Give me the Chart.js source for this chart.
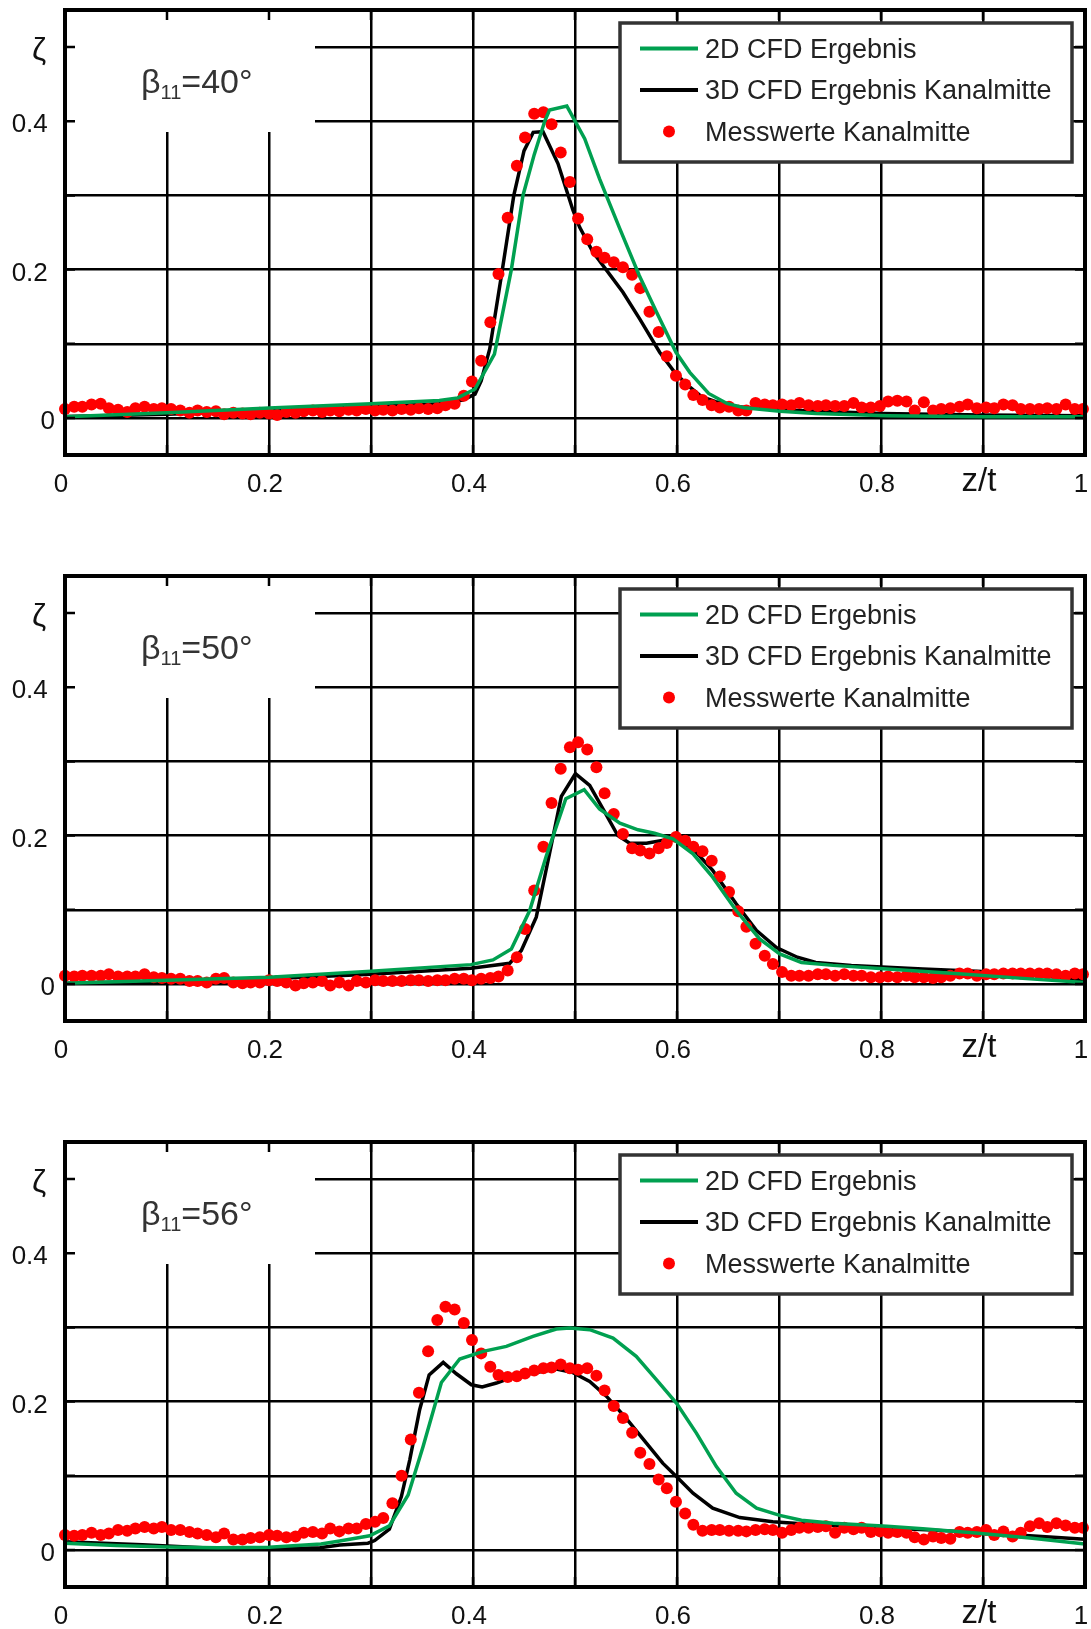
<!DOCTYPE html>
<html>
<head>
<meta charset="utf-8">
<script src="https://cdn.jsdelivr.net/npm/chart.js@4.4.0/dist/chart.umd.min.js"></script>
<style>
html,body{margin:0;padding:0;background:#fff;width:1091px;height:1629px;overflow:hidden;}
.panel{position:absolute;left:0;width:1091px;height:497px;}
canvas{display:block;}
</style>
</head>
<body>
<div class="panel" style="top:0px"><canvas id="c0" width="1091" height="497"></canvas></div>
<div class="panel" style="top:566px"><canvas id="c1" width="1091" height="497"></canvas></div>
<div class="panel" style="top:1132px"><canvas id="c2" width="1091" height="497"></canvas></div>
<script>
// ---------------- DATA ----------------
const seriesNames = ['2D CFD Ergebnis', '3D CFD Ergebnis Kanalmitte', 'Messwerte Kanalmitte'];
const angleLabels = ['40°', '50°', '56°'];

const xTickValues = [0, 0.1, 0.2, 0.3, 0.4, 0.5, 0.6, 0.7, 0.8, 0.9, 1];
const xTickLabels = ['0', '', '0.2', '', '0.4', '', '0.6', '', '0.8', 'z/t', '1'];
const yTickValues = [0, 0.1, 0.2, 0.3, 0.4, 0.5];
const yTickLabels = ['0', '', '0.2', '', '0.4', 'ζ'];

// measurement positions z/t (shared by all three traverses)
const zMess = [0.000,0.009,0.017,0.026,0.035,0.043,0.052,0.061,0.069,0.078,
  0.087,0.095,0.104,0.113,0.122,0.130,0.139,0.148,0.156,0.165,
  0.174,0.182,0.191,0.200,0.208,0.217,0.226,0.234,0.243,0.252,
  0.260,0.269,0.278,0.286,0.295,0.304,0.312,0.321,0.330,0.339,
  0.347,0.356,0.365,0.373,0.382,0.391,0.399,0.408,0.417,0.425,
  0.434,0.443,0.451,0.460,0.469,0.477,0.486,0.495,0.503,0.512,
  0.521,0.529,0.538,0.547,0.556,0.564,0.573,0.582,0.590,0.599,
  0.608,0.616,0.625,0.634,0.642,0.651,0.660,0.668,0.677,0.686,
  0.694,0.703,0.712,0.720,0.729,0.738,0.746,0.755,0.764,0.773,
  0.781,0.790,0.799,0.807,0.816,0.825,0.833,0.842,0.851,0.859,
  0.868,0.877,0.885,0.894,0.903,0.911,0.920,0.929,0.937,0.946,
  0.955,0.963,0.972,0.981,0.990,0.998];

const mess40 = [0.012,0.015,0.015,0.018,0.019,0.013,0.011,0.008,0.013,0.015,
  0.012,0.013,0.012,0.010,0.007,0.010,0.008,0.009,0.005,0.007,
  0.006,0.005,0.007,0.006,0.004,0.008,0.007,0.009,0.010,0.008,
  0.010,0.009,0.011,0.010,0.012,0.010,0.011,0.010,0.012,0.011,
  0.013,0.012,0.013,
  0.017,0.019,0.030,0.049,0.077,0.129,0.194,0.270,0.340,0.378,
  0.410,0.412,0.396,0.358,0.318,0.269,0.241,0.224,0.216,0.210,
  0.203,0.193,0.175,0.143,0.116,0.083,0.057,0.045,0.031,
  0.024,0.017,0.014,0.015,0.010,0.010,0.020,0.018,0.017,0.018,
  0.017,0.020,0.017,0.016,0.017,0.016,0.016,0.020,0.014,0.014,
  0.016,0.022,0.023,0.022,0.010,0.021,0.010,0.012,0.013,0.015,
  0.018,0.013,0.014,0.013,0.018,0.017,0.012,0.012,0.012,0.013,
  0.012,0.018,0.012,0.012];

const mess50 = [0.011,0.010,0.011,0.011,0.011,0.013,0.010,0.010,0.010,0.013,
  0.009,0.008,0.007,0.007,0.004,0.004,0.002,0.007,0.008,0.002,
  0.001,0.002,0.002,0.005,0.004,0.002,-0.002,0.001,0.002,0.004,
  -0.002,0.002,-0.002,0.004,0.002,0.005,0.004,0.004,0.004,0.005,
  0.005,0.004,0.005,0.005,0.007,
  0.007,0.005,0.007,0.008,0.010,0.018,0.036,0.074,0.126,0.185,
  0.244,0.290,0.319,0.326,0.316,0.292,0.257,0.229,0.202,0.183,
  0.180,0.176,0.183,0.190,0.198,0.193,0.185,0.179,0.166,0.145,
  0.124,0.098,0.077,0.054,0.038,0.027,0.016,
  0.011,0.011,0.011,0.013,0.013,0.011,0.013,0.011,0.011,0.009,
  0.009,0.010,0.009,0.011,0.009,0.009,0.008,0.009,0.011,0.014,
  0.014,0.011,0.013,0.013,0.014,0.014,0.014,0.014,0.014,0.014,
  0.013,0.011,0.014,0.013];

const mess56 = [0.020,0.019,0.020,0.023,0.020,0.022,0.027,0.026,0.029,0.031,
  0.029,0.031,0.027,0.027,0.024,0.022,0.020,0.017,0.022,0.014,
  0.014,0.016,0.017,0.020,0.019,0.017,0.018,0.023,0.024,0.022,
  0.029,0.025,0.029,0.029,0.035,0.038,0.043,
  0.063,0.100,0.149,0.212,0.268,0.310,0.328,0.324,0.306,0.283,
  0.265,0.247,0.236,0.233,0.234,0.238,0.242,0.245,0.246,0.250,
  0.245,0.243,0.245,0.235,0.215,0.194,0.178,0.158,0.131,0.116,
  0.095,0.083,0.065,0.049,0.034,0.026,0.027,0.027,0.026,0.026,
  0.025,0.027,0.028,0.027,
  0.023,0.027,0.030,0.030,0.031,0.032,0.023,0.030,0.028,0.030,
  0.024,0.025,0.023,0.024,0.023,0.017,0.014,0.018,0.016,0.015,
  0.024,0.023,0.024,0.027,0.020,0.025,0.018,0.023,0.032,0.036,
  0.031,0.036,0.033,0.030,0.030];

// 2D CFD (green) and 3D CFD (black) curves
const z2D40 = [0,0.1,0.2,0.3,0.367,0.385,0.402,0.421,0.4376,0.449,0.460,0.4703,0.475,0.492,0.5095,0.524,0.544,0.563,0.580,0.599,0.6125,0.631,0.649,0.666,0.701,0.736,0.806,0.9,1.0];
const cfd2D40 = [0.0015,0.007,0.0135,0.019,0.0235,0.027,0.039,0.086,0.200,0.300,0.355,0.400,0.415,0.4205,0.3765,0.3225,0.255,0.192,0.1425,0.0885,0.0615,0.033,0.0195,0.0136,0.009,0.006,0.003,0.0015,0.0015];
const z3D40 = [0,0.1,0.2,0.3,0.367,0.390,0.402,0.408,0.4164,0.4288,0.440,0.450,0.459,0.4686,0.4833,0.498,0.5046,0.5176,0.547,0.5634,0.583,0.5977,0.610,0.624,0.638,0.659,0.7,0.8,0.9,1.0];
const cfd3D40 = [0.002,0.005,0.010,0.015,0.019,0.024,0.032,0.050,0.093,0.200,0.300,0.360,0.385,0.386,0.343,0.280,0.257,0.2235,0.1695,0.1336,0.0886,0.0615,0.0445,0.0286,0.022,0.015,0.011,0.006,0.004,0.003];

const z2D50 = [0,0.2,0.3,0.398,0.4196,0.4376,0.4556,0.472,0.491,0.509,0.524,0.544,0.5618,0.578,0.596,0.6157,0.635,0.658,0.681,0.7007,0.722,0.753,0.806,0.876,0.946,1.0];
const cfd2D50 = [0.001,0.009,0.017,0.026,0.0324,0.047,0.099,0.173,0.2497,0.262,0.236,0.2167,0.2078,0.2032,0.1957,0.1754,0.1439,0.099,0.0607,0.0405,0.029,0.025,0.020,0.0136,0.0068,0.002];
const z3D50 = [0,0.2,0.3,0.398,0.436,0.4474,0.462,0.475,0.4866,0.5004,0.5144,0.5274,0.542,0.5536,0.570,0.5896,0.5994,0.6157,0.635,0.658,0.678,0.6975,0.718,0.736,0.771,0.841,0.911,0.95,1.0];
const cfd3D50 = [0.001,0.007,0.013,0.021,0.0278,0.045,0.090,0.1755,0.2528,0.2834,0.2676,0.236,0.200,0.1897,0.1897,0.1943,0.1957,0.182,0.153,0.108,0.072,0.049,0.036,0.029,0.025,0.020,0.016,0.012,0.005];

const z2D56 = [0,0.05,0.1,0.15,0.2,0.251,0.2693,0.2987,0.318,0.3364,0.351,0.369,0.387,0.410,0.4327,0.4588,0.4817,0.4948,0.5144,0.5373,0.560,0.580,0.5994,0.619,0.6386,0.658,0.678,0.7007,0.722,0.753,0.806,0.841,0.893,0.946,1.0];
const cfd2D56 = [0.009,0.006,0.004,0.003,0.0035,0.008,0.012,0.019,0.0324,0.074,0.139,0.2258,0.2574,0.2677,0.2744,0.2879,0.2978,0.2992,0.2969,0.2857,0.261,0.2294,0.198,0.1575,0.1124,0.0765,0.0563,0.0465,0.040,0.036,0.032,0.0286,0.0227,0.016,0.008];
const z3D56 = [0,0.076,0.15,0.2,0.25,0.2693,0.297,0.3036,0.318,0.3298,0.338,0.3477,0.357,0.3708,0.3837,0.3984,0.409,0.423,0.439,0.459,0.4817,0.498,0.5144,0.531,0.550,0.570,0.586,0.5994,0.6157,0.635,0.6615,0.694,0.736,0.806,0.876,0.946,1.0];
const cfd3D56 = [0.011,0.007,0.002,0.001,0.003,0.0067,0.009,0.0126,0.028,0.072,0.1215,0.189,0.236,0.2528,0.2375,0.2227,0.2196,0.225,0.233,0.2385,0.2439,0.239,0.227,0.207,0.1777,0.144,0.117,0.099,0.0765,0.0563,0.0436,0.038,0.034,0.0295,0.025,0.019,0.0145];

// ---------------- STYLE ----------------
const FONT = '"Liberation Sans", Arial, Helvetica, sans-serif';
const GREEN = '#00A050';
const RED = '#FF0000';
const BLACK = '#000000';
Chart.defaults.font.family = FONT;

function pairs(xs, ys) { return xs.map((x, i) => ({ x: x, y: ys[i] })); }

const panelPlugin = {
  id: 'panelDeco',
  beforeDatasetsDraw(chart, args, opts) {
    const ctx = chart.ctx, ca = chart.chartArea;
    ctx.save();
    ctx.fillStyle = '#ffffff';
    ctx.fillRect(ca.left + 2, ca.top + 2, 248, 120);
    ctx.fillStyle = '#333333';
    ctx.textBaseline = 'alphabetic';
    ctx.textAlign = 'left';
    let x = ca.left + 76, y = ca.top + 83;
    ctx.font = '34px ' + FONT;
    ctx.fillText('β', x, y);
    x += ctx.measureText('β').width;
    ctx.font = '20px ' + FONT;
    ctx.fillText('11', x, y + 6);
    x += ctx.measureText('11').width;
    ctx.font = '34px ' + FONT;
    ctx.fillText('=' + opts.angle, x, y);
    ctx.restore();
  },
  afterDatasetsDraw(chart) {
    const ctx = chart.ctx, ca = chart.chartArea;
    ctx.save();
    const bx = ca.right - 465, by = ca.top + 13, bw = 452, bh = 139;
    ctx.fillStyle = '#ffffff';
    ctx.fillRect(bx, by, bw, bh);
    ctx.lineWidth = 3.5;
    ctx.strokeStyle = '#333333';
    ctx.strokeRect(bx, by, bw, bh);
    const order = [0, 2, 1];
    order.forEach((di, row) => {
      const ds = chart.data.datasets[di];
      const cy = ca.top + 38.5 + row * 41.5;
      if (ds.showLine === false) {
        ctx.beginPath();
        ctx.fillStyle = ds.backgroundColor;
        ctx.arc(ca.right - 416, cy, 6, 0, Math.PI * 2);
        ctx.fill();
      } else {
        ctx.beginPath();
        ctx.strokeStyle = ds.borderColor;
        ctx.lineWidth = 4;
        ctx.moveTo(ca.right - 445, cy);
        ctx.lineTo(ca.right - 387, cy);
        ctx.stroke();
      }
      ctx.fillStyle = '#222222';
      ctx.font = '27px ' + FONT;
      ctx.textBaseline = 'middle';
      ctx.textAlign = 'left';
      ctx.fillText(ds.label, ca.right - 380, cy + 2);
    });
    ctx.restore();
  },
  afterDraw(chart) {
    const ctx = chart.ctx, ca = chart.chartArea;
    const xs = chart.scales.x, ys = chart.scales.y;
    ctx.save();
    ctx.strokeStyle = '#000';
    ctx.lineWidth = 2.5;
    ctx.beginPath();
    xTickValues.forEach(v => {
      const px = xs.getPixelForValue(v);
      ctx.moveTo(px, ca.top); ctx.lineTo(px, ca.top + 10);
      ctx.moveTo(px, ca.bottom); ctx.lineTo(px, ca.bottom - 10);
    });
    yTickValues.forEach(v => {
      const py = ys.getPixelForValue(v);
      ctx.moveTo(ca.left, py); ctx.lineTo(ca.left + 10, py);
      ctx.moveTo(ca.right, py); ctx.lineTo(ca.right - 10, py);
    });
    ctx.stroke();
    ctx.lineWidth = 4;
    ctx.strokeRect(ca.left, ca.top, ca.right - ca.left, ca.bottom - ca.top);
    ctx.restore();
  }
};

function noPad(s) { s.paddingTop = 0; s.paddingBottom = 0; s.paddingLeft = 0; s.paddingRight = 0; }

function makeChart(id, angle, z2, c2, z3, c3, mess) {
  return new Chart(document.getElementById(id), {
    type: 'scatter',
    data: {
      datasets: [
        { label: seriesNames[0], data: pairs(z2, c2), showLine: true, borderColor: GREEN, backgroundColor: GREEN,
          borderWidth: 3.5, pointRadius: 0, tension: 0 },
        { label: seriesNames[2], data: pairs(zMess, mess), showLine: false, backgroundColor: RED, borderColor: RED,
          borderWidth: 0, pointRadius: 6, clip: false },
        { label: seriesNames[1], data: pairs(z3, c3), showLine: true, borderColor: BLACK, backgroundColor: BLACK,
          borderWidth: 3.5, pointRadius: 0, tension: 0 }
      ]
    },
    options: {
      responsive: false,
      animation: false,
      events: [],
      layout: { autoPadding: false, padding: { top: 10, right: 6, left: 0, bottom: 0 } },
      plugins: { legend: { display: false }, tooltip: { enabled: false }, panelDeco: { angle: angle } },
      scales: {
        x: {
          type: 'linear', min: 0, max: 1,
          afterBuildTicks: s => { s.ticks = xTickValues.map(v => ({ value: v })); },
          afterFit: s => { s.height = 42; noPad(s); },
          border: { display: false },
          grid: { color: '#000', lineWidth: 2.5, drawTicks: false },
          ticks: {
            autoSkip: false, maxRotation: 0, padding: 14, labelOffset: -4, color: '#111',
            font: c => (c.tick && c.tick.value === 0.9)
              ? { family: FONT, size: 33, lineHeight: 0.8 }
              : { family: FONT, size: 26 },
            callback: (v) => xTickLabels[xTickValues.indexOf(v)]
          }
        },
        y: {
          type: 'linear', min: -0.05, max: 0.55,
          afterBuildTicks: s => { s.ticks = yTickValues.map(v => ({ value: v })); },
          afterFit: s => { s.width = 65; noPad(s); },
          border: { display: false },
          grid: { color: '#000', lineWidth: 2.5, drawTicks: false },
          ticks: {
            autoSkip: false, padding: 10, labelOffset: 4, color: '#111',
            font: c => ({ family: FONT, size: (c.tick && c.tick.value === 0.5) ? 32 : 26 }),
            // single-character "0" sits further right in the original than the other labels
            callback: (v) => { const t = yTickLabels[yTickValues.indexOf(v)]; return (t === '' || t === '0') ? t : t + ' '; }
          }
        }
      }
    },
    plugins: [panelPlugin]
  });
}

makeChart('c0', angleLabels[0], z2D40, cfd2D40, z3D40, cfd3D40, mess40);
makeChart('c1', angleLabels[1], z2D50, cfd2D50, z3D50, cfd3D50, mess50);
makeChart('c2', angleLabels[2], z2D56, cfd2D56, z3D56, cfd3D56, mess56);
</script>
</body>
</html>
